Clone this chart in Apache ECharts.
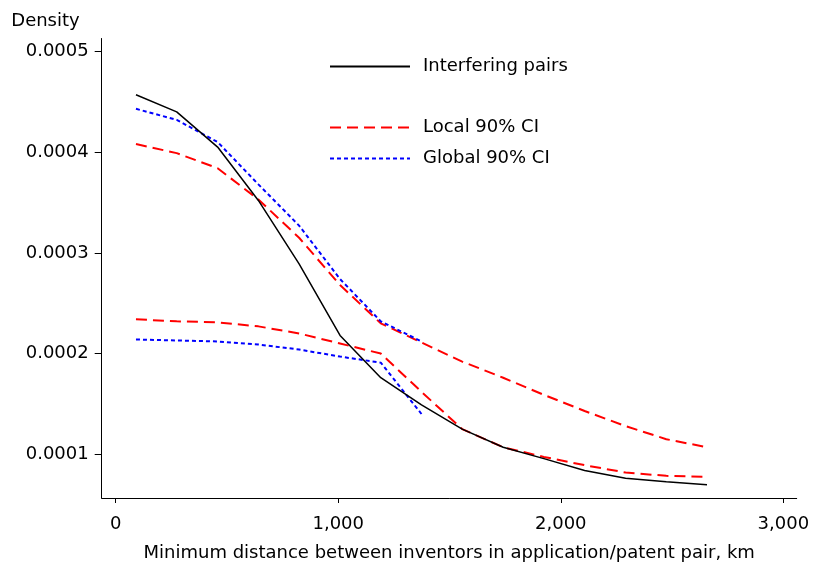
<!DOCTYPE html>
<html>
<head>
<meta charset="utf-8">
<title>Density of interfering pairs by inventor distance</title>
<script src="https://cdn.jsdelivr.net/npm/echarts@6/dist/echarts.min.js"></script>
<style>
  html, body { margin: 0; padding: 0; background: #fff; }
  #chart { width: 813px; height: 567px; }
</style>
</head>
<body>
<div id="chart"></div>
<script>
// Minimum inventor distance (km) at which each density is evaluated
const distanceKm = [91, 274, 458, 641, 824, 1008, 1191, 1374, 1557, 1741, 1924, 2107, 2291, 2474, 2657];

// Kernel density of interfering pairs
const interferingPairs = [0.000457, 0.000440, 0.000405, 0.000352, 0.000289, 0.000218, 0.000176, 0.000149,
                          0.000125, 0.000107, 0.0000957, 0.0000839, 0.0000763, 0.0000727, 0.0000698];

// Local 90% confidence band
const localUpper = [0.000408, 0.000399, 0.000384, 0.000353, 0.000315, 0.000268, 0.000230, 0.000211,
                    0.000192, 0.000176, 0.000159, 0.000143, 0.000128, 0.000115, 0.000107];
const localLower = [0.000234, 0.000232, 0.000231, 0.000227, 0.000220, 0.000210, 0.000200, 0.000162,
                    0.000125, 0.000107, 0.0000974, 0.0000892, 0.0000819, 0.0000786, 0.0000777];

// Global 90% confidence band (reported up to ~1,400 km)
const globalUpper = [0.000443, 0.000432, 0.000410, 0.000368, 0.000327, 0.000274, 0.000232, 0.000212];
const globalLower = [0.000214, 0.000213, 0.000212, 0.000209, 0.000204, 0.000197, 0.000191, 0.000140];

// Axis ticks
const xTickValues = [0, 1000, 2000, 3000];
const xTickLabels = ['0', '1,000', '2,000', '3,000'];
const yTickValues = [0.0001, 0.0002, 0.0003, 0.0004, 0.0005];
const yTickLabels = ['0.0001', '0.0002', '0.0003', '0.0004', '0.0005'];

const FONT = 'DejaVu Sans';
const pairs = (ys) => ys.map((y, i) => [distanceKm[i], y]);
const labelFor = (values, labels) => (v) => {
  const i = values.findIndex((t) => Math.abs(t - v) < 1e-9 * Math.max(1, Math.abs(t)));
  return i >= 0 ? labels[i] : '';
};

const solid = { color: '#000000', width: 1.5, type: 'solid' };
const redDash = { color: '#ff0000', width: 2, type: [11, 6] };
const blueDot = { color: '#0000ff', width: 2, type: [4, 3] };

function line(name, ys, style, z) {
  return {
    name: name,
    type: 'line',
    data: pairs(ys),
    symbol: 'none',
    smooth: false,
    z: z,
    lineStyle: style,
    itemStyle: { color: style.color },
    emphasis: { disabled: true }
  };
}

// Shared legend look: a plain line sample, no marker
const legendBase = {
  left: 329,
  orient: 'vertical',
  padding: 0,
  itemWidth: 80, itemHeight: 14,
  selectedMode: false,
  itemStyle: { opacity: 0, borderWidth: 0 },
  textStyle: { fontFamily: FONT, fontSize: 18, color: '#000', padding: [0, 0, 0, 8], lineHeight: 20 }
};

const chart = echarts.init(document.getElementById('chart'), null, { renderer: 'canvas' });

chart.setOption({
  animation: false,
  backgroundColor: '#ffffff',
  textStyle: { fontFamily: FONT },
  grid: { left: 101.7, right: 16.3, top: 38.5, bottom: 66.3, containLabel: false },
  legend: [
    Object.assign({}, legendBase, { data: ['Interfering pairs'], top: 56.5 }),
    Object.assign({}, legendBase, { data: ['Local 90% CI', 'Global 90% CI'], top: 117.5, itemGap: 11 })
  ],
  xAxis: {
    type: 'value',
    min: -63,
    max: 3060,
    name: 'Minimum distance between inventors in application/patent pair, km',
    nameLocation: 'middle',
    nameGap: 46,
    nameTextStyle: { fontFamily: FONT, fontSize: 18, color: '#000' },
    splitLine: { show: false },
    axisLine: { show: true, onZero: false, lineStyle: { color: '#000', width: 1 } },
    axisTick: { show: true, length: 5, customValues: xTickValues, lineStyle: { color: '#000', width: 1 } },
    axisLabel: {
      customValues: xTickValues,
      formatter: labelFor(xTickValues, xTickLabels),
      margin: 17,
      fontFamily: FONT, fontSize: 18, color: '#000'
    }
  },
  yAxis: {
    type: 'value',
    min: 0.0000566,
    max: 0.0005128,
    name: 'Density',
    nameLocation: 'end',
    nameGap: 8,
    nameTextStyle: { fontFamily: FONT, fontSize: 18, color: '#000', align: 'right', padding: [0, 22, 0, 0] },
    splitLine: { show: false },
    axisLine: { show: true, onZero: false, lineStyle: { color: '#000', width: 1 } },
    axisTick: { show: true, length: 7, customValues: yTickValues, lineStyle: { color: '#000', width: 1 } },
    axisLabel: {
      customValues: yTickValues,
      formatter: labelFor(yTickValues, yTickLabels),
      margin: 13,
      fontFamily: FONT, fontSize: 18, color: '#000'
    }
  },
  series: [
    line('Interfering pairs', interferingPairs, solid, 5),
    line('Local 90% CI', localUpper, redDash, 3),
    line('Local 90% CI', localLower, redDash, 3),
    line('Global 90% CI', globalUpper, blueDot, 4),
    line('Global 90% CI', globalLower, blueDot, 4)
  ]
});
</script>
</body>
</html>
